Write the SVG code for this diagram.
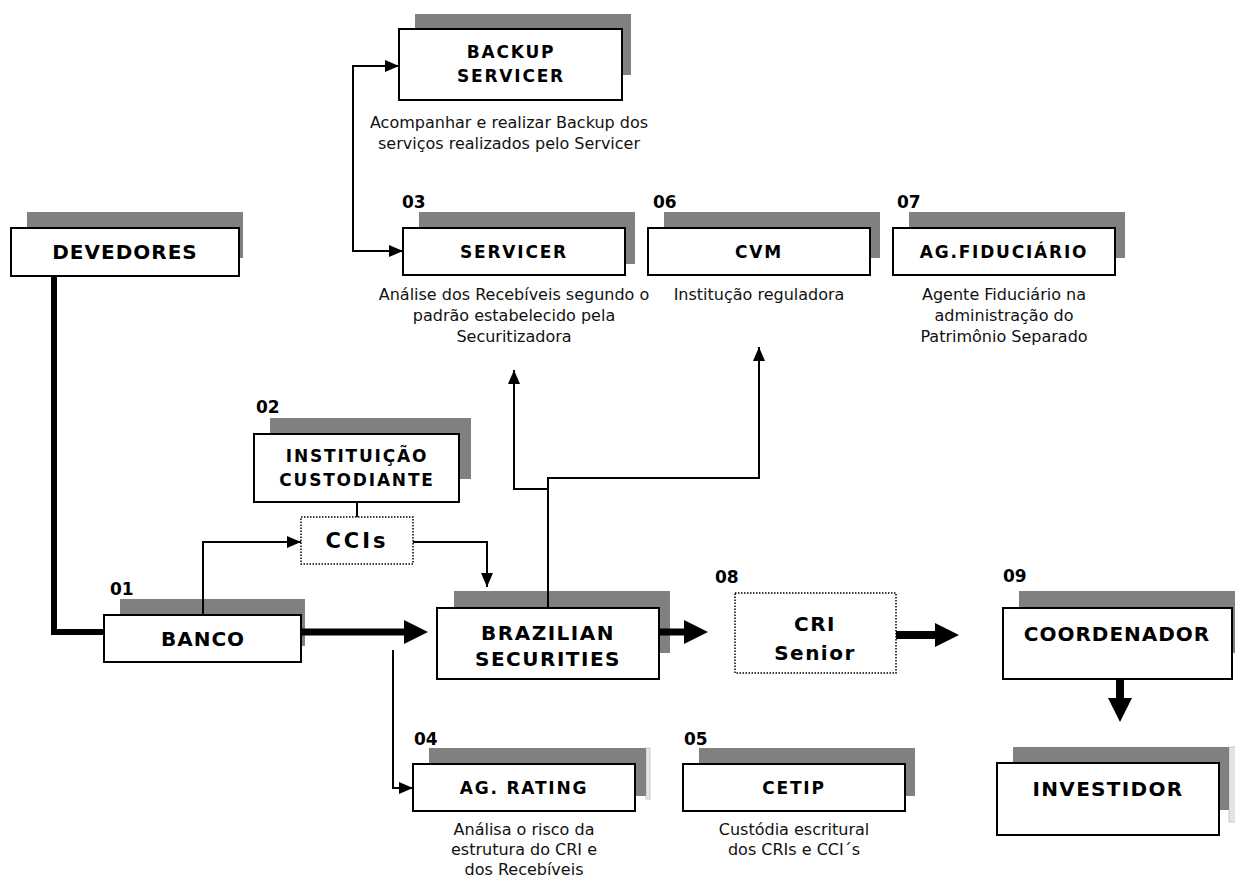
<svg xmlns="http://www.w3.org/2000/svg" width="1235" height="883" viewBox="0 0 1235 883">
<style>
.sh{fill:#808080}
.bx{fill:#fff;stroke:#000;stroke-width:2}
.dt{fill:#fff;stroke:#000;stroke-width:1.5;stroke-dasharray:1.5 1.5}
.lb{font-family:'DejaVu Sans',Verdana,sans-serif;font-weight:bold;font-size:17px;letter-spacing:1.8px;text-anchor:middle;fill:#000}
.bg{font-family:'DejaVu Sans',Verdana,sans-serif;font-weight:bold;font-size:20px;letter-spacing:1.3px;text-anchor:middle;fill:#000}
.nm{font-family:'DejaVu Sans',Verdana,sans-serif;font-weight:bold;font-size:17px;fill:#000}
.ds{font-family:'DejaVu Sans',Verdana,sans-serif;font-size:16px;text-anchor:middle;fill:#111}
.ln{fill:none;stroke:#000;stroke-width:2}
.tk{fill:none;stroke:#000;stroke-width:6}
.grid{fill:#e4e4e4;stroke:#c8c8c8;stroke-width:1}
</style>
<defs>
<marker id="ah" viewBox="0 0 14 12" refX="14" refY="6" markerWidth="14" markerHeight="12" markerUnits="userSpaceOnUse" orient="auto-start-reverse"><path d="M0,0 L14,6 L0,12z" fill="#000"/></marker>
</defs>

<g id="devedores">
<rect class="sh" x="27" y="212" width="216" height="46"/>
<rect class="bx" x="11" y="228" width="228" height="48"/>
<text class="bg" x="125" y="259" style="letter-spacing:1px">DEVEDORES</text>
</g>

<g id="backup-servicer">
<rect class="sh" x="415" y="14" width="216" height="61"/>
<rect class="bx" x="399" y="29" width="223" height="71"/>
<text class="lb" x="511" y="58">BACKUP</text>
<text class="lb" x="511" y="82">SERVICER</text>
<text class="ds" x="509" y="128">Acompanhar e realizar Backup dos</text>
<text class="ds" x="509" y="149">serviços realizados pelo Servicer</text>
</g>

<g id="servicer">
<text class="nm" x="402" y="208">03</text>
<rect class="sh" x="419" y="212" width="216" height="52"/>
<rect class="bx" x="403" y="228" width="222" height="47"/>
<text class="lb" x="514" y="258">SERVICER</text>
<text class="ds" x="514" y="300">Análise dos Recebíveis segundo o</text>
<text class="ds" x="514" y="321">padrão estabelecido pela</text>
<text class="ds" x="514" y="342">Securitizadora</text>
</g>

<g id="cvm">
<text class="nm" x="653" y="208">06</text>
<rect class="sh" x="664" y="212" width="216" height="46"/>
<rect class="bx" x="648" y="228" width="222" height="47"/>
<text class="lb" x="759" y="258">CVM</text>
<text class="ds" x="759" y="300">Institução reguladora</text>
</g>

<g id="ag-fiduciario">
<text class="nm" x="897" y="208">07</text>
<rect class="sh" x="909" y="212" width="216" height="46"/>
<rect class="bx" x="893" y="228" width="222" height="47"/>
<text class="lb" x="1004" y="258">AG.FIDUCIÁRIO</text>
<text class="ds" x="1004" y="300">Agente Fiduciário na</text>
<text class="ds" x="1004" y="321">administração do</text>
<text class="ds" x="1004" y="342">Patrimônio Separado</text>
</g>

<g id="instituicao-custodiante">
<text class="nm" x="256" y="413">02</text>
<rect class="sh" x="270" y="418" width="201" height="61"/>
<rect class="bx" x="254" y="434" width="205" height="68"/>
<text class="lb" x="357" y="462">INSTITUIÇÃO</text>
<text class="lb" x="357" y="486">CUSTODIANTE</text>
</g>

<g id="ccis">
<rect class="dt" x="301" y="517" width="112" height="47"/>
<text class="bg" x="357" y="548" style="font-size:21px;letter-spacing:3px">CCIs</text>
</g>

<g id="banco">
<text class="nm" x="110" y="595">01</text>
<rect class="sh" x="120" y="599" width="185" height="47"/>
<rect class="bx" x="104" y="615" width="197" height="47"/>
<text class="bg" x="203" y="646" style="letter-spacing:1px">BANCO</text>
</g>

<g id="brazilian-securities">
<rect class="sh" x="454" y="591" width="216" height="62"/>
<rect class="bx" x="437" y="608" width="222" height="71"/>
<text class="bg" x="548" y="640" style="letter-spacing:1.5px">BRAZILIAN</text>
<text class="bg" x="548" y="666" style="letter-spacing:1.5px">SECURITIES</text>
</g>

<g id="cri-senior">
<text class="nm" x="715" y="583">08</text>
<rect class="dt" x="735" y="593" width="161" height="80"/>
<text class="bg" x="815" y="631" style="letter-spacing:1.5px">CRI</text>
<text class="bg" x="815" y="660" style="letter-spacing:1.5px">Senior</text>
</g>

<g id="coordenador">
<text class="nm" x="1003" y="582">09</text>
<rect class="sh" x="1019" y="591" width="216" height="62"/>
<rect class="bx" x="1003" y="608" width="229" height="71"/>
<text class="bg" x="1117" y="641" style="letter-spacing:1px">COORDENADOR</text>
</g>

<g id="investidor">
<rect class="grid" x="1229" y="747" width="8" height="75"/>
<rect class="sh" x="1013" y="747" width="216" height="63"/>
<rect class="bx" x="997" y="763" width="222" height="72"/>
<text class="bg" x="1108" y="796">INVESTIDOR</text>
</g>

<g id="ag-rating">
<text class="nm" x="414" y="745">04</text>
<rect class="grid" x="646" y="748" width="4" height="51"/>
<rect class="sh" x="429" y="748" width="217" height="48"/>
<rect class="bx" x="413" y="764" width="222" height="47"/>
<text class="lb" x="524" y="794">AG. RATING</text>
<text class="ds" x="524" y="835">Análisa o risco da</text>
<text class="ds" x="524" y="855">estrutura do CRI e</text>
<text class="ds" x="524" y="875">dos Recebíveis</text>
</g>

<g id="cetip">
<text class="nm" x="684" y="745">05</text>
<rect class="sh" x="699" y="748" width="216" height="48"/>
<rect class="bx" x="683" y="764" width="222" height="47"/>
<text class="lb" x="794" y="794">CETIP</text>
<text class="ds" x="794" y="835">Custódia escritural</text>
<text class="ds" x="794" y="855">dos CRIs e CCI´s</text>
</g>

<g id="connectors">
<path class="ln" d="M399,66 H353 V251 H403" marker-start="url(#ah)" marker-end="url(#ah)"/>
<path class="tk" d="M54,276 V632 H104"/>
<path class="ln" d="M203,615 V542 H301" marker-end="url(#ah)"/>
<path class="ln" d="M357,502 V517"/>
<path class="ln" d="M413,542 H487 V587" marker-end="url(#ah)"/>
<path class="ln" d="M548,608 V478 H759 V347" marker-end="url(#ah)"/>
<path class="ln" d="M548,489 H514 V370" marker-end="url(#ah)"/>
<path class="ln" d="M393,650 V788 H413" marker-end="url(#ah)"/>
<polygon points="301,628.5 404,628.5 404,620 428,632 404,644 404,635.5 301,635.5" fill="#000"/>
<polygon points="659,628.5 684,628.5 684,620 708,632 684,644 684,635.5 659,635.5" fill="#000"/>
<polygon points="896,631 935,631 935,623 959,635 935,647 935,639 896,639" fill="#000"/>
<polygon points="1116,679 1124,679 1124,698 1132,698 1120,722 1108,698 1116,698" fill="#000"/>
</g>
</svg>
